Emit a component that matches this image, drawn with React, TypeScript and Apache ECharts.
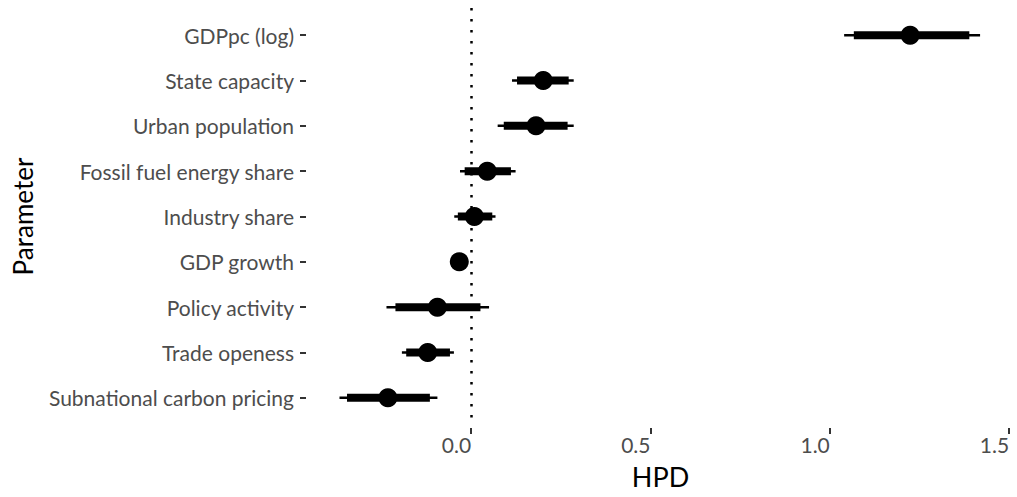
import React, { useEffect, useRef } from "react";
import * as echarts from "echarts";

const parameters = [
  "GDPpc (log)",
  "State capacity",
  "Urban population",
  "Fossil fuel energy share",
  "Industry share",
  "GDP growth",
  "Policy activity",
  "Trade openess",
  "Subnational carbon pricing",
];
const pointEst = [1.224, 0.201, 0.181, 0.045, 0.009, -0.033, -0.094, -0.121, -0.232];
const outerLo = [1.04, 0.114, 0.074, -0.031, -0.047, -0.045, -0.236, -0.193, -0.367];
const outerHi = [1.419, 0.286, 0.286, 0.124, 0.068, -0.022, 0.05, -0.048, -0.094];
const innerLo = [1.067, 0.128, 0.091, -0.018, -0.037, -0.04, -0.211, -0.181, -0.346];
const innerHi = [1.389, 0.272, 0.269, 0.111, 0.059, -0.027, 0.026, -0.059, -0.115];
const xTicks = [0, 0.5, 1.0, 1.5];

const FONT = "Lato";

function intervalSeries(lo: number[], hi: number[], width: number) {
  return {
    type: "custom",
    renderItem: (params: any, api: any) => {
      const a = api.coord([api.value(0), api.value(2)]);
      const b = api.coord([api.value(1), api.value(2)]);
      return {
        type: "line",
        shape: { x1: a[0], y1: a[1], x2: b[0], y2: b[1] },
        style: { stroke: "#000", lineWidth: width, lineCap: "butt" },
      };
    },
    data: lo.map((l, i) => [l, hi[i], i]),
    z: 3,
  };
}

export default function App() {
  const ref = useRef<HTMLDivElement>(null);
  useEffect(() => {
    const chart = echarts.init(ref.current!, undefined, { renderer: "svg" });
    chart.setOption({
      animation: false,
      grid: { left: 309, right: 5, top: 8, bottom: 72, containLabel: false },
      xAxis: {
        type: "value",
        min: -0.452,
        max: 1.508,
        offset: 3,
        splitLine: { show: false },
        axisLine: { show: false, onZero: false },
        axisTick: {
          show: true,
          customValues: xTicks,
          length: 6,
          lineStyle: { color: "#333", width: 2 },
        },
        axisLabel: {
          customValues: xTicks,
          formatter: (v: number) => v.toFixed(1),
          align: "right",
          margin: 6,
          color: "#4d4d4d",
          fontFamily: FONT,
          fontSize: 21,
        },
        name: "HPD",
        nameLocation: "middle",
        nameGap: 35,
        nameTextStyle: { color: "#000", fontFamily: FONT, fontSize: 27 },
      },
      yAxis: {
        type: "value",
        min: -0.6,
        max: 8.6,
        inverse: true,
        offset: 3,
        splitLine: { show: false },
        axisLine: { show: false, onZero: false },
        axisTick: {
          show: true,
          customValues: parameters.map((_, i) => i),
          length: 6,
          lineStyle: { color: "#333", width: 2 },
        },
        axisLabel: {
          customValues: parameters.map((_, i) => i),
          formatter: (v: number) => parameters[Math.round(v)] ?? "",
          margin: 12,
          color: "#4d4d4d",
          fontFamily: FONT,
          fontSize: 21,
        },
        name: "Parameter",
        nameLocation: "middle",
        nameGap: 270,
        nameRotate: 90,
        nameTextStyle: { color: "#000", fontFamily: FONT, fontSize: 26 },
      },
      series: [
        {
          type: "scatter",
          data: [],
          silent: true,
          markLine: {
            silent: true,
            symbol: "none",
            label: { show: false },
            lineStyle: { color: "#000", width: 2.5, type: [2.5, 8.5] },
            data: [{ xAxis: 0 }],
          },
        },
        intervalSeries(outerLo, outerHi, 2.5),
        intervalSeries(innerLo, innerHi, 8),
        {
          type: "scatter",
          data: pointEst.map((v, i) => [v, i]),
          symbol: "circle",
          symbolSize: 19,
          itemStyle: { color: "#000", opacity: 1 },
          z: 4,
        },
      ],
    });
    return () => chart.dispose();
  }, []);
  return (
    <div
      ref={ref}
      style={{ position: "absolute", left: 0, top: 0, width: 1017, height: 497 }}
    />
  );
}
